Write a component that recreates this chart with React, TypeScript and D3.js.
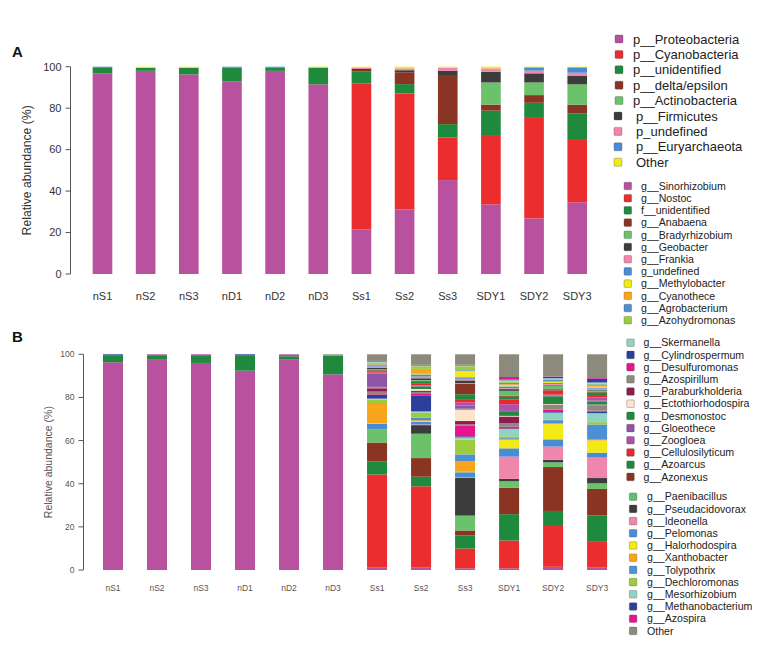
import * as d3 from "d3";

const samples = ["nS1", "nS2", "nS3", "nD1", "nD2", "nD3", "Ss1", "Ss2", "Ss3", "SDY1", "SDY2", "SDY3"];

const phyla = [
  "p__Proteobacteria", "p__Cyanobacteria", "p__unidentified", "p__delta/epsilon",
  "p__Actinobacteria", "p__Firmicutes", "p_undefined", "p__Euryarchaeota", "Other",
];
const phylumColors = [
  "#b8529e", "#ec2d2e", "#1f8a3d", "#8a3524", "#6cc26a", "#3c3c3c", "#f086ac", "#4a8bd3", "#f2ea12",
];

// phylum level, % per sample (order as phyla)
const pNS1 = [96.8, 0, 2.6, 0, 0, 0, 0, 0.6, 0];
const pNS2 = [98.0, 0, 1.4, 0, 0, 0, 0, 0, 0.6];
const pNS3 = [96.3, 0, 3.2, 0, 0, 0, 0, 0, 0.5];
const pND1 = [92.8, 0, 6.7, 0, 0, 0, 0, 0.5, 0];
const pND2 = [98.0, 0, 1.5, 0, 0, 0, 0, 0.5, 0];
const pND3 = [91.5, 0, 8.1, 0, 0, 0, 0, 0, 0.4];
const pSS1 = [21.5, 70.5, 5.6, 0.8, 0, 0.5, 0.6, 0, 0.5];
const pSS2 = [31.2, 55.9, 4.5, 5.7, 0, 1.0, 0.9, 0, 0.8];
const pSS3 = [45.3, 20.6, 6.4, 23.7, 0, 2.1, 1.4, 0, 0.5];
const pSDY1 = [33.6, 33.0, 12.2, 2.9, 10.7, 5.2, 1.6, 0, 0.8];
const pSDY2 = [26.8, 48.9, 6.9, 3.7, 6.1, 4.4, 1.3, 1.6, 0.3];
const pSDY3 = [34.6, 30.5, 12.4, 4.2, 9.8, 4.2, 1.4, 2.6, 0.3];

const genera = [
  "g__Sinorhizobium", "g__Nostoc", "f__unidentified", "g__Anabaena", "g__Bradyrhizobium", "g__Geobacter",
  "g__Frankia", "g_undefined", "g__Methylobacter", "g__Cyanothece", "g__Agrobacterium", "g__Azohydromonas",
  "g__Skermanella", "g__Cylindrospermum", "g__Desulfuromonas", "g__Azospirillum", "g__Paraburkholderia", "g__Ectothiorhodospira",
  "g__Desmonostoc", "g__Gloeothece", "g__Zoogloea", "g__Cellulosilyticum", "g__Azoarcus", "g__Azonexus",
  "g__Paenibacillus", "g__Pseudacidovorax", "g__Ideonella", "g__Pelomonas", "g__Halorhodospira", "g__Xanthobacter",
  "g__Tolypothrix", "g__Dechloromonas", "g__Mesorhizobium", "g__Methanobacterium", "g__Azospira", "Other",
];
const genusColors = [
  "#b8529e", "#ec2d2e", "#1f8a3d", "#8a3524", "#6cc26a", "#3c3c3c",
  "#f086ac", "#4a8bd3", "#f2ea12", "#f9a51b", "#4b8fd4", "#9ccb3b",
  "#8fd4c0", "#2e3f9b", "#e5168b", "#8b8a7c", "#8c1d4f", "#fde3c9",
  "#1f8a3d", "#8e55a6", "#b44ea6", "#e8282b", "#1f8a3d", "#8a3524",
  "#62bf6a", "#3c3c3c", "#f086ac", "#4a8bd3", "#f2ea12", "#f9a51b",
  "#4e93d2", "#9ccb3b", "#8fd4c0", "#2e3f9b", "#e5168b", "#8b8a7c",
];

// genus level, % per sample (order as genera)
const gNS1 = [96.3, 0, 3.1, 0, 0, 0, 0, 0, 0, 0, 0, 0,
  0, 0, 0, 0, 0, 0, 0, 0, 0, 0, 0, 0,
  0, 0, 0, 0, 0, 0, 0, 0, 0, 0.6, 0, 0];
const gNS2 = [97.8, 0, 1.8, 0, 0, 0, 0, 0, 0, 0, 0, 0,
  0, 0, 0, 0, 0, 0, 0, 0, 0.4, 0, 0, 0,
  0, 0, 0, 0, 0, 0, 0, 0, 0, 0, 0, 0];
const gNS3 = [96.0, 0, 3.2, 0, 0, 0, 0, 0, 0, 0, 0, 0,
  0, 0, 0, 0, 0, 0, 0, 0, 0.8, 0, 0, 0,
  0, 0, 0, 0, 0, 0, 0, 0, 0, 0, 0, 0];
const gND1 = [92.4, 0, 7.0, 0, 0, 0, 0, 0, 0, 0, 0, 0,
  0, 0, 0, 0, 0, 0, 0, 0, 0, 0, 0, 0,
  0, 0, 0, 0, 0, 0, 0, 0, 0, 0.6, 0, 0];
const gND2 = [97.5, 0, 1.6, 0, 0, 0, 0, 0, 0, 0, 0, 0,
  0, 0, 0, 0, 0, 0, 0, 0, 0.9, 0, 0, 0,
  0, 0, 0, 0, 0, 0, 0, 0, 0, 0, 0, 0];
const gND3 = [90.7, 0, 8.7, 0, 0, 0, 0, 0, 0, 0, 0, 0,
  0, 0, 0, 0, 0, 0, 0, 0, 0, 0, 0, 0,
  0, 0, 0, 0, 0, 0, 0, 0, 0, 0, 0, 0.6];
const gSS1 = [1.1, 43.7, 6.2, 8.8, 5.9, 0.2, 0.2, 2.4, 0.2, 9.3, 0.3, 1.6,
  0.5, 1.8, 0.3, 1.2, 1.6, 0.3, 0.3, 6.2, 0.5, 0.4, 0.6, 0.3,
  0.3, 0.6, 0.7, 0.6, 0.2, 0.2, 0.4, 0.3, 0.5, 0.2, 0.2, 3.1];
const gSS2 = [1.1, 38.0, 4.5, 8.7, 11.4, 4.0, 0.3, 1.2, 0.3, 0.5, 1.2, 2.3,
  0.6, 7.3, 1.2, 0.6, 0.6, 0.8, 1.2, 0.3, 0.3, 0.6, 1.0, 0.4,
  0.4, 0.8, 0.8, 1.0, 0.3, 2.0, 0.3, 1.2, 0.3, 0.2, 0.2, 4.9];
const gSS3 = [0.8, 9.3, 6.2, 2.3, 7.0, 17.8, 0.3, 2.3, 0.2, 5.1, 3.1, 7.0,
  1.0, 0.5, 4.9, 0.7, 1.6, 5.4, 0.4, 1.5, 1.5, 1.5, 2.3, 5.0,
  0.3, 1.2, 0.8, 0.7, 2.8, 0.3, 0.3, 1.8, 0.3, 0.2, 0.2, 4.9];
const gSDY1 = [0.8, 13.1, 12.4, 12.4, 3.1, 1.1, 10.5, 3.9, 3.9, 0.4, 0.5, 0.9,
  3.4, 0.3, 0.8, 1.7, 3.1, 0.3, 2.2, 0.5, 2.8, 2.3, 1.2, 0.5,
  2.3, 0.8, 0.4, 0.9, 0.6, 0.4, 0.7, 0.4, 0.8, 0.3, 1.2, 10.7];
const gSDY2 = [1.5, 19.6, 6.6, 20.6, 2.2, 1.2, 6.2, 3.4, 7.1, 0.4, 1.5, 0.4,
  3.1, 0.3, 1.1, 2.0, 0.4, 0.3, 3.6, 0.3, 0.5, 2.0, 0.5, 0.3,
  1.5, 0.3, 0.4, 0.5, 0.4, 0.5, 0.6, 0.3, 0.4, 0.6, 0.2, 10.4];
const gSDY3 = [1.1, 12.1, 12.4, 12.4, 2.6, 2.5, 9.6, 2.3, 5.7, 0.4, 7.1, 1.1,
  4.2, 0.8, 0.4, 2.0, 0.5, 0.3, 1.5, 0.4, 1.5, 1.1, 1.2, 0.4,
  0.5, 0.4, 0.5, 0.5, 0.4, 0.5, 0.6, 0.3, 0.6, 1.8, 0.3, 11.1];

const yTicks = [0, 20, 40, 60, 80, 100];

const phylumRows = [pNS1, pNS2, pNS3, pND1, pND2, pND3, pSS1, pSS2, pSS3, pSDY1, pSDY2, pSDY3];
const genusRows = [gNS1, gNS2, gNS3, gND1, gND2, gND3, gSS1, gSS2, gSS3, gSDY1, gSDY2, gSDY3];

type PanelProps = {
  rows: number[][];
  keys: string[];
  colors: string[];
  xRange: [number, number];
  yRange: [number, number];
  axisX: number;
  tickSize: number;
  labelY: number;
  titleX: number;
  fontSize: number;
  titleSize: number;
  textColor: string;
};

function StackPanel(p: PanelProps) {
  const table = p.rows.map((r, i) => {
    const o: Record<string, number | string> = { sample: samples[i] };
    p.keys.forEach((k, j) => (o[k] = r[j]));
    return o;
  });
  const series = d3
    .stack<Record<string, number | string>>()
    .keys(p.keys)
    .value((d, k) => d[k] as number)
    .offset(d3.stackOffsetExpand)(table);

  const x = d3.scaleBand().domain(samples).range(p.xRange).paddingInner(0.545).paddingOuter(0.27);
  const y = d3.scaleLinear().domain([0, 100]).range(p.yRange);

  return (
    <g>
      {series.map((s, si) => (
        <g key={s.key} fill={p.colors[si]}>
          {s.map((d, i) => {
            const h = y(d[0] * 100) - y(d[1] * 100);
            if (h <= 0) return null;
            return (
              <rect
                key={i}
                x={x(samples[i])}
                y={y(d[1] * 100)}
                width={x.bandwidth()}
                height={h}
              />
            );
          })}
        </g>
      ))}
      <line x1={p.axisX} x2={p.axisX} y1={y(0)} y2={y(100)} stroke="#555" strokeWidth={1} />
      {yTicks.map((t) => (
        <g key={t}>
          <line x1={p.axisX - p.tickSize} x2={p.axisX} y1={y(t)} y2={y(t)} stroke="#555" />
          <text
            x={p.axisX - p.tickSize - 4}
            y={y(t)}
            dy="0.35em"
            textAnchor="end"
            fontSize={p.fontSize}
            fill={p.textColor}
          >
            {t}
          </text>
        </g>
      ))}
      {samples.map((s) => (
        <text
          key={s}
          x={(x(s) ?? 0) + x.bandwidth() / 2}
          y={p.labelY}
          dy="0.35em"
          textAnchor="middle"
          fontSize={p.fontSize}
          fill={p.textColor}
        >
          {s}
        </text>
      ))}
      <text
        transform={`translate(${p.titleX},${(y(0) + y(100)) / 2}) rotate(-90)`}
        textAnchor="middle"
        dy="0.35em"
        fontSize={p.titleSize}
        fill={p.textColor}
      >
        Relative abundance (%)
      </text>
    </g>
  );
}

export default function App() {
  const genusGroups = [
    { start: 0, sq: 624, tx: 641, y0: 186 },
    { start: 12, sq: 626.7, tx: 643.5, y0: 342.7 },
    { start: 24, sq: 629.3, tx: 647, y0: 496.7 },
  ];
  return (
    <svg
      width={767}
      height={647}
      style={{ position: "absolute", left: 0, top: 0, background: "#fff" }}
      fontFamily="'Liberation Sans', Arial, sans-serif"
    >
      <text x={12} y={57} fontSize={15} fontWeight="bold" fill="#111">A</text>
      <text x={12} y={342} fontSize={15} fontWeight="bold" fill="#111">B</text>

      <StackPanel
        rows={phylumRows}
        keys={phyla}
        colors={phylumColors}
        xRange={[81, 598.7]}
        yRange={[274, 66.7]}
        axisX={70.5}
        tickSize={5}
        labelY={296}
        titleX={27}
        fontSize={11}
        titleSize={12.2}
        textColor="#333"
      />
      <StackPanel
        rows={genusRows}
        keys={genera}
        colors={genusColors}
        xRange={[91.1, 619]}
        yRange={[570, 354.3]}
        axisX={83.5}
        tickSize={5}
        labelY={588}
        titleX={48}
        fontSize={8.5}
        titleSize={10.5}
        textColor="#555"
      />

      {phyla.map((name, i) => {
        const cy = 39 + i * 15.4;
        const late = i >= 5;
        return (
          <g key={name}>
            <rect
              x={late ? 614 : 615}
              y={cy - 4}
              width={8}
              height={8}
              rx={1}
              fill={phylumColors[i]}
              stroke="#444"
              strokeOpacity={0.5}
              strokeWidth={0.6}
            />
            <text x={late ? 636 : 633} y={cy} dy="0.35em" fontSize={13} fill="#222">
              {name}
            </text>
          </g>
        );
      })}

      {genusGroups.map((grp) =>
        genera.slice(grp.start, grp.start + 12).map((name, j) => {
          const i = grp.start + j;
          const cy = grp.y0 + j * 12.2;
          return (
            <g key={name}>
              <rect
                x={grp.sq}
                y={cy - 3.8}
                width={7.6}
                height={7.6}
                rx={1}
                fill={genusColors[i]}
                stroke="#444"
                strokeOpacity={0.5}
                strokeWidth={0.6}
              />
              <text x={grp.tx} y={cy} dy="0.35em" fontSize={10.6} fill="#222">
                {name}
              </text>
            </g>
          );
        })
      )}
    </svg>
  );
}
